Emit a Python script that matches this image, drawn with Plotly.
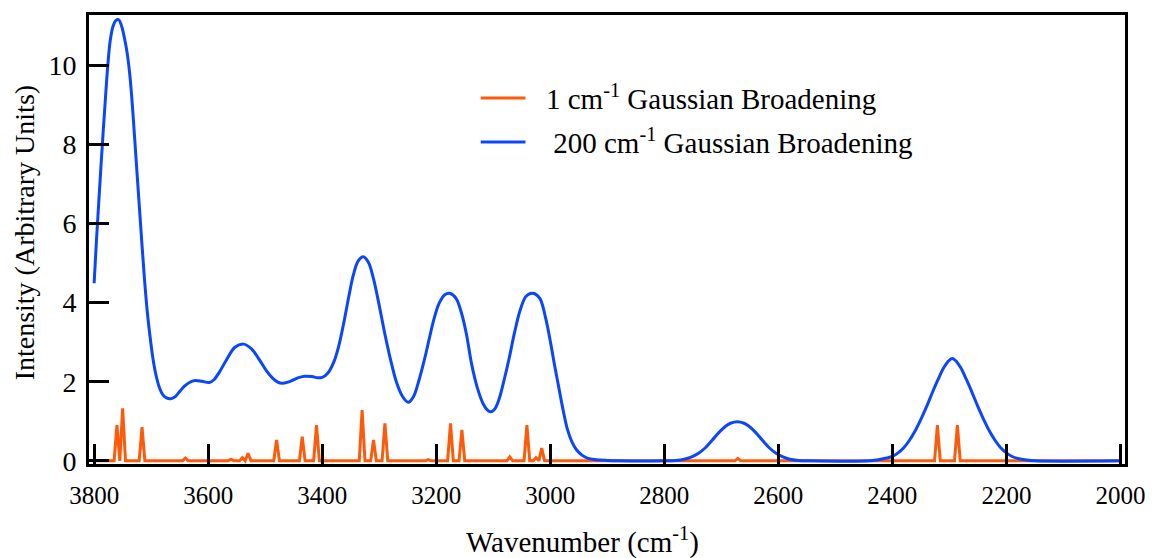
import plotly.graph_objects as go

# ---- data ----
# stick spectrum (1 cm-1 broadening): peak positions (cm-1) and heights
stick_wn = [3760, 3750, 3716, 3640, 3560, 3540, 3530, 3480, 3435, 3410,
            3330, 3310, 3290, 3214, 3175, 3155, 3071, 3041, 3025, 3015,
            2671, 2321, 2286]
stick_int = [0.90, 1.33, 0.85, 0.07, 0.04, 0.08, 0.19, 0.53, 0.61, 0.90,
             1.28, 0.53, 0.95, 0.03, 0.95, 0.78, 0.10, 0.90, 0.08, 0.32,
             0.06, 0.90, 0.90]
stick_halfwidth = 5  # cm-1, half base width of each narrow peak

# broad spectrum (200 cm-1 broadening)
blue_wn = [3800, 3796, 3792, 3788, 3784, 3780, 3776, 3772, 3767, 3762,
           3757, 3752, 3747, 3742, 3737, 3732, 3727, 3722, 3717, 3712,
           3707, 3702, 3697, 3692, 3686, 3680, 3673, 3666, 3658, 3650,
           3642, 3633, 3623, 3611, 3598, 3590, 3580, 3568, 3553, 3538,
           3524, 3510, 3498, 3487, 3478, 3470, 3460, 3450, 3440, 3430,
           3418, 3408, 3400, 3394, 3387, 3379, 3371, 3362, 3353, 3345,
           3337, 3328, 3319, 3310, 3301, 3290, 3280, 3270, 3260, 3249,
           3240, 3230, 3220, 3212, 3204, 3195, 3185, 3175, 3165, 3155,
           3147, 3138, 3128, 3118, 3110, 3105, 3098, 3090, 3080, 3072,
           3063, 3053, 3043, 3035, 3028, 3018, 3008, 2999, 2993, 2985,
           2977, 2970, 2962, 2954, 2945, 2935, 2920, 2900, 2880, 2800,
           2780, 2765, 2752, 2740, 2728, 2716, 2704, 2692, 2684, 2672,
           2660, 2652, 2640, 2628, 2616, 2604, 2592, 2580, 2565, 2545,
           2440, 2425, 2410, 2400, 2390, 2380, 2370, 2360, 2350, 2340,
           2330, 2320, 2310, 2303, 2295, 2287, 2280, 2270, 2260, 2250,
           2240, 2230, 2220, 2210, 2200, 2190, 2180, 2165, 2150, 2000]
blue_int = [4.49, 5.55, 6.5, 7.45, 8.35, 9.2, 10.0, 10.6, 10.98, 11.13,
            11.15, 11.0, 10.7, 10.3, 9.7, 8.8, 7.75, 6.7, 5.65, 4.65,
            3.8, 3.15, 2.6, 2.2, 1.87, 1.68, 1.59, 1.57, 1.62, 1.75,
            1.88, 1.98, 2.03, 2.01, 1.98, 2.05, 2.25, 2.55, 2.87, 2.95,
            2.83, 2.55, 2.28, 2.09, 1.99, 1.96, 1.99, 2.05, 2.11, 2.14,
            2.13, 2.1, 2.11, 2.16, 2.28, 2.52, 2.9, 3.5, 4.18, 4.72,
            5.05, 5.16, 5.02, 4.6, 4.0, 3.2, 2.55, 2.0, 1.65, 1.48,
            1.62, 2.05, 2.6, 3.1, 3.58, 3.98, 4.2, 4.23, 4.1, 3.7,
            3.2, 2.45, 1.85, 1.45, 1.28, 1.24, 1.3, 1.55, 2.1, 2.6,
            3.22, 3.8, 4.15, 4.23, 4.23, 4.1, 3.6, 2.95, 2.46, 1.85,
            1.25, 0.8, 0.48, 0.28, 0.15, 0.07, 0.03, 0.01, 0.0, 0.0,
            0.01, 0.04, 0.1, 0.19, 0.33, 0.52, 0.72, 0.88, 0.95, 0.99,
            0.95, 0.88, 0.72, 0.52, 0.33, 0.19, 0.1, 0.04, 0.01, 0.0,
            0.0, 0.03, 0.07, 0.11, 0.2, 0.33, 0.52, 0.76, 1.05, 1.37,
            1.72, 2.05, 2.35, 2.5, 2.59, 2.5, 2.35, 2.05, 1.72, 1.37,
            1.05, 0.76, 0.52, 0.33, 0.2, 0.11, 0.06, 0.02, 0.0, 0.0]

x_ticks = [3800, 3600, 3400, 3200, 3000, 2800, 2600, 2400, 2200, 2000]
y_ticks = [0, 2, 4, 6, 8, 10]

# build the narrow-peak trace from the stick list
ox, oy = [3800], [0.0]
for p, h in zip(stick_wn, stick_int):
    ox += [p + stick_halfwidth, p, p - stick_halfwidth]
    oy += [0.0, h, 0.0]
ox.append(2000)
oy.append(0.0)

ORANGE = "#FF5A0A"
BLUE = "#0A46FF"
FONT = "Liberation Serif"
NAMES = ["1 cm<sup>-1</sup> Gaussian Broadening",
         " 200 cm<sup>-1</sup> Gaussian Broadening"]

fig = go.Figure()
fig.add_trace(go.Scatter(
    x=ox, y=oy, mode="lines", line=dict(color=ORANGE, width=3),
    name=NAMES[0], showlegend=False))
fig.add_trace(go.Scatter(
    x=blue_wn, y=blue_int, mode="lines",
    line=dict(color=BLUE, width=3, shape="spline", smoothing=1.0),
    name=NAMES[1], showlegend=False))

# plot area in pixels: left 89, right 1131, top 15, bottom 464
L, R, T, B = 89, 1131, 15, 464
def px(x):
    return (x - L) / (R - L)
def py(y):
    return (B - y) / (B - T)

# hand-drawn legend (line samples + texts)
for (y, col, name) in [(98, ORANGE, NAMES[0]), (142, BLUE, NAMES[1])]:
    fig.add_shape(type="line", xref="paper", yref="paper",
                  x0=px(483), x1=px(528), y0=py(y), y1=py(y),
                  line=dict(color=col, width=3))
    fig.add_annotation(xref="paper", yref="paper", x=px(547), y=py(y - 1),
                       text=name, showarrow=False, xanchor="left",
                       yanchor="middle", font=dict(size=29))

# axis titles
fig.add_annotation(xref="paper", yref="paper", x=px(585), y=py(540),
                   text="Wavenumber (cm<sup>-1</sup>)", showarrow=False,
                   xanchor="center", yanchor="middle", font=dict(size=29))
fig.add_annotation(xref="paper", yref="paper", x=px(25), y=py(232),
                   text="Intensity (Arbitrary Units)", showarrow=False,
                   textangle=-90, xanchor="center", yanchor="middle",
                   font=dict(size=28))

fig.update_layout(
    width=1157, height=558,
    margin=dict(l=L, r=1157 - R, t=T, b=558 - B),
    plot_bgcolor="white", paper_bgcolor="white",
    font=dict(family=FONT, size=25, color="black"),
    showlegend=False,
)
fig.update_xaxes(
    range=[3809, 1992], tickvals=x_ticks, ticks="inside", ticklen=20,
    tickwidth=3, tickcolor="black", showline=True, linewidth=3,
    linecolor="black", mirror=True, showgrid=False, zeroline=False,
    tickfont=dict(size=25), ticklabelstandoff=7)
fig.update_yaxes(
    range=[-0.08, 11.27], tickvals=y_ticks, ticks="inside", ticklen=20,
    tickwidth=3, tickcolor="black", showline=True, linewidth=3,
    linecolor="black", mirror=True, showgrid=False, zeroline=False,
    tickfont=dict(size=28), ticklabelstandoff=4)

fig.write_html("out.html")
